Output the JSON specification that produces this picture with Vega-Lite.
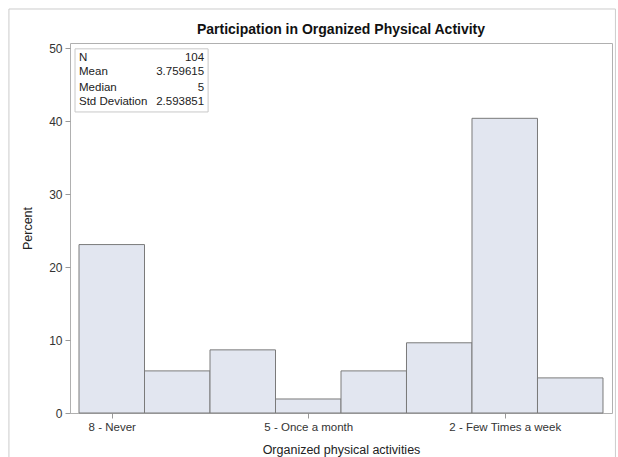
{
  "$schema": "https://vega.github.io/schema/vega-lite/v6.json",
  "width": 542,
  "height": 370,
  "autosize": {"type": "none"},
  "padding": {"left": 70, "top": 43, "right": 6, "bottom": 44},
  "background": "white",
  "config": {
    "font": "Liberation Sans",
    "view": {"stroke": "#b0b0b0", "strokeWidth": 1},
    "axis": {"labelFont": "Liberation Sans", "titleFont": "Liberation Sans", "labelColor": "#333", "titleColor": "#222", "tickColor": "#999", "labelFontSize": 11.5, "titleFontSize": 12.5, "titleFontWeight": "normal", "grid": false, "domain": false, "tickSize": 5}
  },
  "title": {"text": "Participation in Organized Physical Activity", "fontSize": 14, "fontWeight": "bold", "color": "#111", "font": "Liberation Sans", "anchor": "middle", "offset": -28.5},
  "datasets": {
    "bars": [
      {"cat": "8 - Never", "lo": 0, "hi": 1, "pct": 23.08},
      {"cat": "7", "lo": 1, "hi": 2, "pct": 5.77},
      {"cat": "6", "lo": 2, "hi": 3, "pct": 8.65},
      {"cat": "5 - Once a month", "lo": 3, "hi": 4, "pct": 1.92},
      {"cat": "4", "lo": 4, "hi": 5, "pct": 5.77},
      {"cat": "3", "lo": 5, "hi": 6, "pct": 9.62},
      {"cat": "2 - Few Times a week", "lo": 6, "hi": 7, "pct": 40.38},
      {"cat": "1", "lo": 7, "hi": 8, "pct": 4.81}
    ],
    "stats": [
      {"label": "N", "value": "104", "y": 48.65},
      {"label": "Mean", "value": "3.759615", "y": 46.7},
      {"label": "Median", "value": "5", "y": 44.6},
      {"label": "Std Deviation", "value": "2.593851", "y": 42.65}
    ],
    "box": [{"x1": -0.061, "x2": 1.971, "y1": 41.25, "y2": 49.9}],
    "outer": [{"x1": -1.07, "x2": 8.19, "y1": -8, "y2": 55.36}]
  },
  "layer": [
    {
      "data": {"name": "outer"},
      "mark": {"type": "rect", "fill": null, "stroke": "#cccccc", "strokeWidth": 1},
      "encoding": {
        "x": {"field": "x1", "type": "quantitative", "scale": {"domain": [-0.1375, 8.1375], "nice": false, "zero": false}, "axis": {"values": [0.5, 3.5, 6.5], "labelExpr": "datum.value == 0.5 ? '8 - Never' : datum.value == 3.5 ? '5 - Once a month' : '2 - Few Times a week'", "title": "Organized physical activities", "labelPadding": 3, "titlePadding": 11}},
        "x2": {"field": "x2"},
        "y": {"field": "y1", "type": "quantitative", "scale": {"domain": [0, 50.7], "nice": false, "zero": false}, "axis": {"values": [0, 10, 20, 30, 40, 50], "title": "Percent", "labelPadding": 3, "titlePadding": 14, "labelFontSize": 12}},
        "y2": {"field": "y2"}
      }
    },
    {
      "data": {"name": "bars"},
      "mark": {"type": "rect", "fill": "#e2e6f0", "stroke": "#7a7a7a", "strokeWidth": 1},
      "encoding": {
        "x": {"field": "lo", "type": "quantitative"},
        "x2": {"field": "hi"},
        "y": {"field": "pct", "type": "quantitative"},
        "y2": {"datum": 0}
      }
    },
    {
      "data": {"name": "box"},
      "mark": {"type": "rect", "fill": "white", "stroke": "#c8c8c8", "strokeWidth": 1},
      "encoding": {
        "x": {"field": "x1", "type": "quantitative"},
        "x2": {"field": "x2"},
        "y": {"field": "y1", "type": "quantitative"},
        "y2": {"field": "y2"}
      }
    },
    {
      "data": {"name": "stats"},
      "mark": {"type": "text", "align": "left", "baseline": "middle", "fontSize": 11.5, "color": "#222", "font": "Liberation Sans"},
      "encoding": {
        "x": {"datum": 0.0},
        "y": {"field": "y", "type": "quantitative"},
        "text": {"field": "label"}
      }
    },
    {
      "data": {"name": "stats"},
      "mark": {"type": "text", "align": "right", "baseline": "middle", "fontSize": 11.5, "color": "#222", "font": "Liberation Sans"},
      "encoding": {
        "x": {"datum": 1.91},
        "y": {"field": "y", "type": "quantitative"},
        "text": {"field": "value"}
      }
    }
  ]
}
